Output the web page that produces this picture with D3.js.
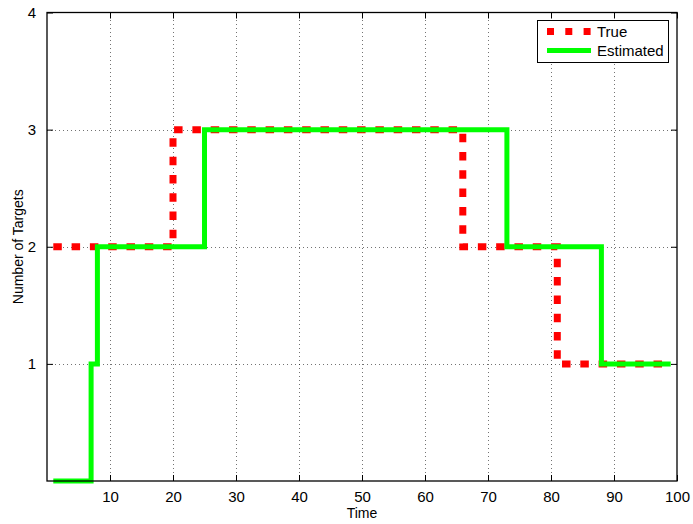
<!DOCTYPE html>
<html><head><meta charset="utf-8">
<script src="https://cdn.jsdelivr.net/npm/d3@7"></script>
<style>
html,body{margin:0;padding:0;background:#fff;}
svg{display:block;font-family:"Liberation Sans",Arial,Helvetica,sans-serif;}
</style></head>
<body>
<svg id="chart" width="693" height="524"></svg>
<script>
// Data (step change points; value held until next time)
const trueTimes = [1, 20, 66, 81, 99];
const trueLevels = [2, 3, 2, 1, 1];
const estTimes = [1, 7, 8, 25, 73, 88, 99];
const estLevels = [0, 1, 2, 3, 2, 1, 1];
const xTicks = [10, 20, 30, 40, 50, 60, 70, 80, 90, 100];
const yTicks = [1, 2, 3, 4];
const seriesNames = ["True", "Estimated"];
const seriesColors = ["#ff0000", "#00ff00"];

const svg = d3.select("#chart");
const L = 47, R = 677, T = 12.5, B = 481;
const x = d3.scaleLinear().domain([0, 100]).range([L, R]);
const y = d3.scaleLinear().domain([0, 4]).range([B, T]);

// grid
const g = svg.append("g");
g.selectAll(".gx").data(xTicks.filter(d => d < 100)).enter().append("line")
  .attr("x1", d => x(d) + 0.5).attr("x2", d => x(d) + 0.5)
  .attr("y1", B).attr("y2", T)
  .attr("stroke", "#000").attr("stroke-opacity", 0.55).attr("stroke-width", 1)
  .attr("stroke-dasharray", "1,3");
g.selectAll(".gy").data(yTicks.filter(d => d < 4)).enter().append("line")
  .attr("y1", d => Math.round(y(d)) + 0.5).attr("y2", d => Math.round(y(d)) + 0.5)
  .attr("x1", L).attr("x2", R)
  .attr("stroke", "#000").attr("stroke-opacity", 0.55).attr("stroke-width", 1)
  .attr("stroke-dasharray", "1,3");

// lines
const line = d3.line().x(d => x(d[0])).y(d => y(d[1])).curve(d3.curveStepAfter);
const trueData = trueTimes.map((t, i) => [t, trueLevels[i]]);
const estData = estTimes.map((t, i) => [t, estLevels[i]]);

svg.append("path").datum(trueData).attr("d", line)
  .attr("fill", "none").attr("stroke", seriesColors[0]).attr("stroke-width", 7)
  .attr("stroke-dasharray", "8.5,9.8").attr("stroke-linejoin", "miter");
svg.append("path").datum(estData).attr("d", line)
  .attr("fill", "none").attr("stroke", seriesColors[1]).attr("stroke-width", 5)
  .attr("stroke-linejoin", "miter");

// axes
const fmt = d3.format("d");
const axB = d3.axisBottom(x).tickValues(xTicks).tickFormat(fmt).tickSizeInner(-6).tickSizeOuter(0).tickPadding(10);
const axT = d3.axisTop(x).tickValues(xTicks).tickSizeInner(-6).tickSizeOuter(0).tickFormat("");
const axLft = d3.axisLeft(y).tickValues(yTicks).tickFormat(fmt).tickSizeInner(-6).tickSizeOuter(0).tickPadding(11);
const axRgt = d3.axisRight(y).tickValues(yTicks).tickSizeInner(-6).tickSizeOuter(0).tickFormat("");

function style(sel) {
  sel.select(".domain").remove();
  sel.selectAll("line").attr("stroke", "#000").attr("stroke-width", 1);
  sel.selectAll("text").attr("font-size", 15).attr("fill", "#000")
    .attr("font-family", "'Liberation Sans',Arial,sans-serif");
}
svg.append("g").attr("transform", `translate(0,${B})`).call(axB).call(style);
svg.append("g").attr("transform", `translate(0,${T})`).call(axT).call(style);
svg.append("g").attr("transform", `translate(${L},0)`).call(axLft).call(style);
svg.append("g").attr("transform", `translate(${R},0)`).call(axRgt).call(style);

// box
svg.append("rect").attr("x", L).attr("y", T).attr("width", R - L).attr("height", B - T)
  .attr("fill", "none").attr("stroke", "#000").attr("stroke-width", 1.3);

// axis labels
svg.append("text").attr("x", (L + R) / 2).attr("y", 518).attr("text-anchor", "middle")
  .attr("font-size", 14).text("Time");
svg.append("text").attr("transform", `translate(23,${(T + B) / 2}) rotate(-90)`)
  .attr("text-anchor", "middle").attr("font-size", 14).text("Number of Targets");

// legend
const lg = svg.append("g");
lg.append("rect").attr("x", 537.5).attr("y", 20.5).attr("width", 131).attr("height", 42)
  .attr("fill", "#fff").attr("stroke", "#000").attr("stroke-width", 1);
const ly = [31.5, 50.5];
seriesNames.forEach((name, i) => {
  const ln = lg.append("line").attr("x1", 547).attr("x2", 591).attr("y1", ly[i]).attr("y2", ly[i])
    .attr("stroke", seriesColors[i]).attr("stroke-width", i === 0 ? 7 : 5);
  if (i === 0) ln.attr("stroke-dasharray", "7,11.3");
  lg.append("text").attr("x", 597).attr("y", ly[i] + 5.5).attr("font-size", 15).text(name);
});
</script>
</body></html>
